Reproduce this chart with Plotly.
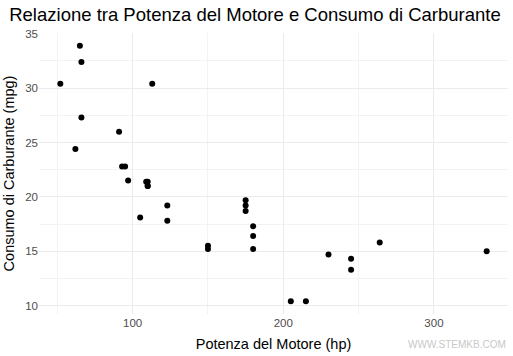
import plotly.graph_objects as go

hp = [110, 110, 93, 110, 175, 105, 245, 62, 95, 123, 123, 180, 180, 180, 205, 215,
      230, 66, 52, 65, 97, 150, 150, 245, 175, 66, 91, 113, 264, 175, 335, 109]
mpg = [21.0, 21.0, 22.8, 21.4, 18.7, 18.1, 14.3, 24.4, 22.8, 19.2, 17.8, 16.4, 17.3, 15.2,
       10.4, 10.4, 14.7, 32.4, 30.4, 33.9, 21.5, 15.5, 15.2, 13.3, 19.2, 27.3, 26.0, 30.4,
       15.8, 19.7, 15.0, 21.4]

x_ticks = [100, 200, 300]
y_ticks = [10, 15, 20, 25, 30, 35]

font = "Liberation Sans, Arial, sans-serif"
grid = "#EBEBEB"

fig = go.Figure(go.Scatter(x=hp, y=mpg, mode="markers",
                           marker=dict(color="black", size=6)))

fig.update_layout(
    width=513, height=356,
    margin=dict(l=39, r=5, t=33, b=42),
    paper_bgcolor="white", plot_bgcolor="white",
    showlegend=False,
    font=dict(family=font, color="black"),
    title=dict(text="Relazione tra Potenza del Motore e Consumo di Carburante",
               x=0.018, xanchor="left", y=0.958, yanchor="middle",
               font=dict(size=18.5, color="black", family=font)),
    xaxis=dict(range=[37.85, 349.15], tickvals=x_ticks, showgrid=True, gridcolor=grid,
               gridwidth=1, zeroline=False, showline=False, ticks="", automargin=False,
               tickfont=dict(size=11.5, color="#4D4D4D"),
               minor=dict(dtick=50, tick0=0, showgrid=True, gridcolor="#F3F3F3", gridwidth=0.6),
               title=dict(text="Potenza del Motore (hp)", font=dict(size=14.5), standoff=11)),
    yaxis=dict(range=[9.225, 35.075], tickvals=y_ticks, showgrid=True, gridcolor=grid,
               gridwidth=1, zeroline=False, showline=False, ticks="", automargin=False,
               tickfont=dict(size=11.5, color="#4D4D4D"),
               minor=dict(dtick=2.5, tick0=0, showgrid=True, gridcolor="#F3F3F3", gridwidth=0.6),
               title=dict(text="Consumo di Carburante (mpg)", font=dict(size=14.5), standoff=7)),
    annotations=[dict(text="WWW.STEMKB.COM", xref="paper", yref="paper",
                      x=1.0, y=-0.108, xanchor="right", yanchor="middle", showarrow=False,
                      font=dict(size=10, color="#C8C8C8", family=font))],
)

fig.write_html("out.html", config={"displayModeBar": False},
               post_script="document.body.style.margin='0';")
